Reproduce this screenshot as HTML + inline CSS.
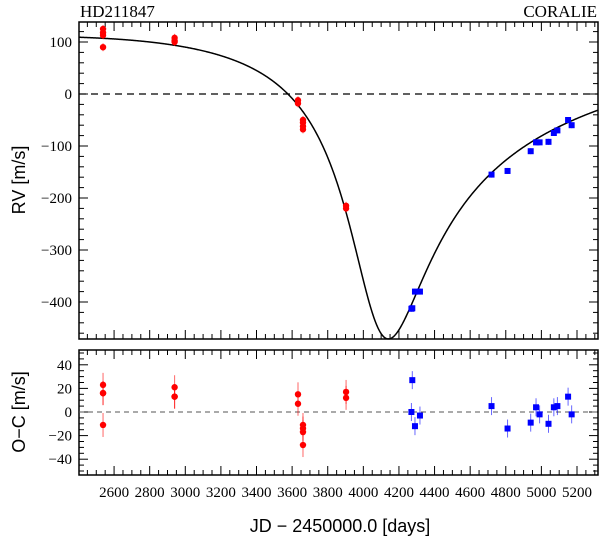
<!DOCTYPE html>
<html><head><meta charset="utf-8"><style>
html,body{margin:0;padding:0;background:#fff;}
svg{display:block;}
.ser{font-family:"Liberation Serif",serif;}
.san{font-family:"Liberation Sans",sans-serif;}
</style></head><body>
<svg id="c" width="600" height="541" viewBox="0 0 600 541" xmlns="http://www.w3.org/2000/svg">
<text class="ser" x="80" y="17" font-size="17">HD211847</text>
<text class="ser" x="597" y="17" font-size="17" text-anchor="end">CORALIE</text>
<text class="san" x="0" y="0" font-size="18" text-anchor="middle" transform="translate(25,180) rotate(-90)">RV [m/s]</text>
<text class="san" x="0" y="0" font-size="18" text-anchor="middle" transform="translate(25,412) rotate(-90)">O−C [m/s]</text>
<text class="san" x="340" y="532" font-size="18" text-anchor="middle">JD − 2450000.0 [days]</text>
</svg>
<script>
// Data
const redJD  = [2538,2538,2538,2538,2940,2940,2940,3633,3633,3661,3661,3661,3661,3903,3903];
const redRV  = [125,118,113,90,108,103,100,-12,-18,-50,-55,-62,-68,-215,-220];
const redOC  = [23,16,16,-11,21,13,13,15,7,-11,-14,-17,-28,17,12];
const blueJD = [4270,4275,4290,4318,4720,4810,4940,4970,4990,5040,5070,5090,5150,5170];
const blueRV = [-413,-412,-380,-380,-155,-148,-110,-93,-93,-92,-75,-70,-50,-60];
const blueOC = [0,27,-12,-3,5,-14,-9,4,-2,-10,4,5,13,-2];
const xTicks = [2600,2800,3000,3200,3400,3600,3800,4000,4200,4400,4600,4800,5000,5200];
const rvTicks = [100,0,-100,-200,-300,-400];
const ocTicks = [40,20,0,-20,-40];
// orbit parameters
const P=6900, ecc=0.685, om=159*Math.PI/180, K=291, gam=6, Tp=4085;

const svg=document.getElementById('c');
const NS='http://www.w3.org/2000/svg';
const L=79,R=598, T1=22,B1=339, T2=350,B2=475;
const X0=2403,X1=5318;
const x=d=>L+(d-X0)/(X1-X0)*(R-L);
const y1=v=>94-v*0.52;
const y2=v=>412-v*1.18;
function mk(tag,attrs,name){const e=document.createElementNS(NS,tag);for(const k in attrs)e.setAttribute(k,attrs[k]);


svg.appendChild(e);return e;}
function line(x1,y1_,x2,y2_,st,w,name,dash){const a={x1:x1,y1:y1_,x2:x2,y2:y2_,stroke:st,'stroke-width':w};if(dash)a['stroke-dasharray']=dash;return mk('line',a,name);}

mk('rect',{x:L,y:T1,width:R-L,height:B1-T1,fill:'none',stroke:'#000','stroke-width':1.5},'rv-plot-frame');
mk('rect',{x:L,y:T2,width:R-L,height:B2-T2,fill:'none',stroke:'#000','stroke-width':1.5},'residual-plot-frame');
for(let d=2450;d<=5300;d+=50){const maj=d%200===0;const len=maj?9:5;const px=x(d);
 for(const [t,b] of [[T1,B1],[T2,B2]]){
  line(px,t,px,t+len,'#000',1,'x-tick');
  line(px,b,px,b-len,'#000',1,'x-tick');
 }}
xTicks.forEach(d=>{const t=mk('text',{x:x(d),y:497,'font-size':15,'text-anchor':'middle',class:'ser'},'x-tick-label');t.textContent=d;});
for(let v=-460;v<=120;v+=20){const maj=v%100===0;const len=maj?9:5;const py=y1(v);
 line(L,py,L+len,py,'#000',1,'y-tick');line(R,py,R-len,py,'#000',1,'y-tick');}
rvTicks.forEach(v=>{const t=mk('text',{x:72,y:y1(v)+5,'font-size':15,'text-anchor':'end',class:'ser'},'rv-tick-label');t.textContent=v<0?'−'+(-v):v;});
for(let v=-50;v<=50;v+=5){const maj=v%20===0;const len=maj?9:5;const py=y2(v);
 line(L,py,L+len,py,'#000',1,'y-tick');line(R,py,R-len,py,'#000',1,'y-tick');}
ocTicks.forEach(v=>{const t=mk('text',{x:72,y:y2(v)+5,'font-size':15,'text-anchor':'end',class:'ser'},'oc-tick-label');t.textContent=v<0?'−'+(-v):v;});
line(L,y1(0),R,y1(0),'#000',1.2,'rv-zero-line','7,5');
line(L,y2(0),R,y2(0),'#555',1,'oc-zero-line','5,4');
function rv(t){let M=2*Math.PI*(t-Tp)/P;let E=M;for(let i=0;i<50;i++)E=E-(E-ecc*Math.sin(E)-M)/(1-ecc*Math.cos(E));
 const nu=2*Math.atan2(Math.sqrt(1+ecc)*Math.sin(E/2),Math.sqrt(1-ecc)*Math.cos(E/2));
 return gam+K*(Math.cos(nu+om)+ecc*Math.cos(om));}
let dstr='';for(let t=X0;t<=X1;t+=3){const v=Math.max(rv(t),-471);dstr+=(dstr?'L':'M')+x(t).toFixed(2)+','+y1(v).toFixed(2);}
mk('path',{d:dstr,fill:'none',stroke:'#000','stroke-width':1.5},'keplerian-model-curve');
function pts(js,vs,yf,col,shape,err,name){js.forEach((d,i)=>{const px=x(d),py=yf(vs[i]);
 line(px,py-err,px,py+err,col,1,name+'-errorbar').setAttribute('stroke-opacity','0.6');
 if(shape==='c')mk('circle',{cx:px,cy:py,r:3.2,fill:col},name);
 else mk('rect',{x:px-3,y:py-3,width:6,height:6,fill:col},name);});}
pts(redJD,redRV,y1,'#f00','c',4,'coralie98-rv-point');
pts(blueJD,blueRV,y1,'#00f','s',3,'coralie07-rv-point');
pts(redJD,redOC,y2,'#f00','c',12,'coralie98-residual-point');
pts(blueJD,blueOC,y2,'#00f','s',9,'coralie07-residual-point');
</script>
</body></html>
